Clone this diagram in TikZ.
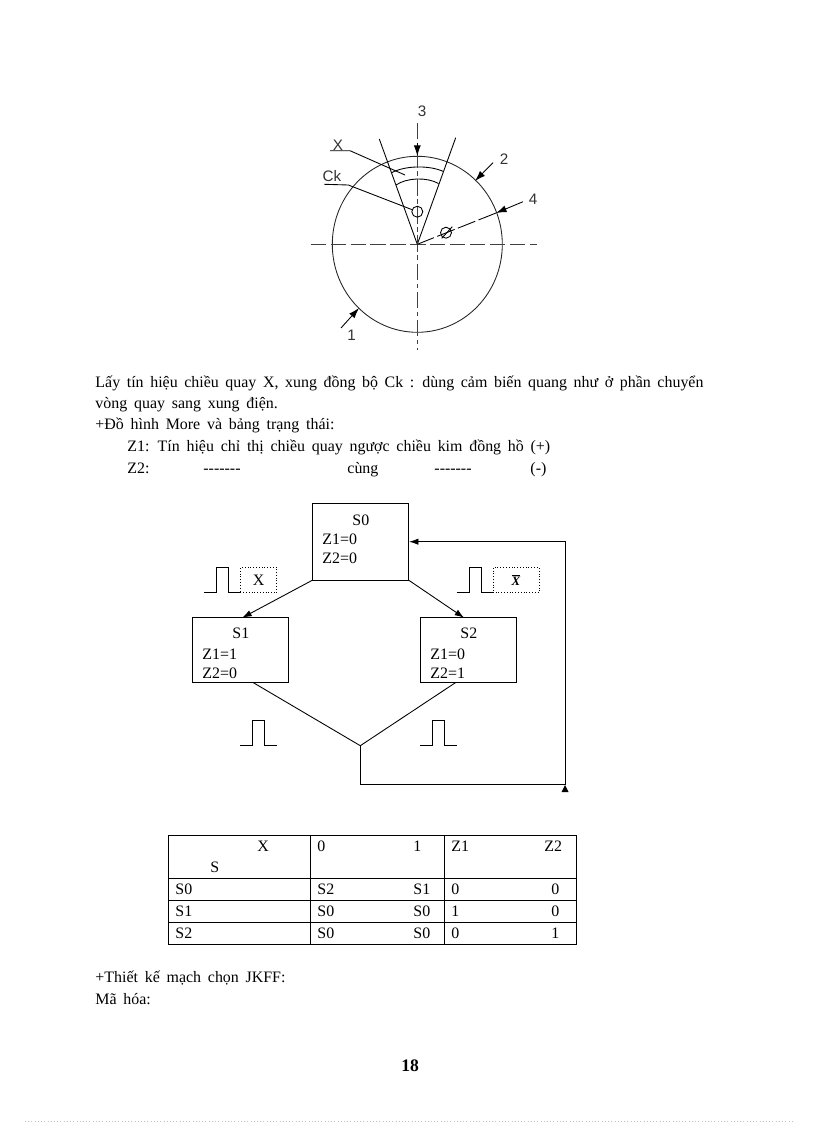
\documentclass[tikz,border=0pt]{standalone}
\usepackage{fontspec}
\setmainfont[WordSpace=1.7]{Liberation Serif}
\setsansfont{Liberation Sans}
\usetikzlibrary{arrows.meta}
\newcommand{\hyph}{-{}-{}-{}-{}-{}-{}-}
\begin{document}
\begin{tikzpicture}[x=0.03cm,y=-0.03cm,>={Latex[length=8pt,width=5.5pt]},line width=0.75pt,
    every node/.style={inner sep=0pt},
    font=\fontsize{13.6}{16}\selectfont]
  \tikzset{
    txt/.style={anchor=base west},
    cad/.style={font=\sffamily\fontsize{13}{15}\selectfont,text=black!80},
    state/.style={draw, minimum width=2.89cm, minimum height=1.94cm},
    smallarrow/.style={-{Latex[length=9pt,width=6pt]}},
    axis/.style={dash pattern=on 13pt off 4pt, line width=0.8pt, black!75}
  }
  \useasboundingbox (0,0) rectangle (816,1123);
  % rotor
  \coordinate (c) at (417.3,244.3);
  \draw[black!85] (c) ellipse [x radius=85, y radius=88];
  \coordinate (wl) at (379.3,139);
  \coordinate (wr) at (455.7,137.7);
  \draw (wl) -- (c) -- (wr);
  \draw (391.7,172.7) .. controls (405,165.5) and (429,165) .. (443.5,171.5);
  \draw (396,185) .. controls (407,177.5) and (427,177) .. (438.5,183.5);
  \draw[axis] (310.7,244.3) -- (537,244.3);
  \draw[axis, dash pattern=on 14pt off 3pt on 4pt off 3pt] (c |- 0,123) -- (c |- 0,350);
  \node[circle, draw, minimum size=0.33cm] (ck) at (417.3,211.7) {};
  \node[circle, draw, minimum size=0.33cm] (phi) at (446,232.7) {};
  \draw (441.7,238.3) -- (452.3,226.7);
  % labels and leaders
  \node[cad] (l3) at (422,111) {3};
  \node[cad] (l2) at (504,159) {2};
  \node[cad] (l4) at (533,199) {4};
  \node[cad] (l1) at (351.7,335.7) {1};
  \node[cad] (lx) at (338,145) {X};
  \node[cad] (lck) at (332,176) {Ck};
  \coordinate (x1) at (330,150.7);
  \coordinate (x2) at (350,150.7);
  \coordinate (x3) at (405,175);
  \draw (x1) -- (x2) -- (x3);
  \coordinate (k1) at (324.3,184.3);
  \coordinate (k2) at (348.3,185);
  \draw (k1) -- (k2) -- (ck);
  \coordinate (a3) at (417.3,143);
  \coordinate (t3) at (417.3,156);
  \draw[smallarrow] (a3) -- (t3);
  \coordinate (a2) at (493,162.7);
  \coordinate (t2) at (475,181);
  \draw[smallarrow] (a2) -- (t2);
  \coordinate (a4) at (523,201.7);
  \coordinate (t4) at (496,213);
  \draw[smallarrow] (a4) -- (t4);
  \draw[dash pattern=on 16pt off 3pt] (t4) -- (c);
  \coordinate (a1) at (341,328);
  \coordinate (t1) at (359,308);
  \draw[smallarrow] (a1) -- (t1);
  % text
  \node[txt] (p1) at (95,387) {\makebox[18.24cm][s]{Lấy tín hiệu chiều quay X, xung đồng bộ Ck : dùng cảm biến quang như ở phần chuyển}};
  \node[txt] (p2) at (95,408) {vòng quay sang xung điện.};
  \node[txt] (p3) at (95,429) {+Đồ hình More và bảng trạng thái:};
  \node[txt] (p4) at (127,451) {Z1: Tín hiệu chỉ thị chiều quay ngược chiều kim đồng hồ (+)};
  \node[txt] (p5) at (127,473) {Z2:};
  \node[txt] (p6) at (203,473) {\hyph};
  \node[txt] (p7) at (347,473) {cùng};
  \node[txt] (p8) at (434,473) {\hyph};
  \node[txt] (p9) at (530,473) {(-)};
  % state graph
  \node[state, minimum height=2.3cm] (s0) at (360.5,541.7) {};
  \node[state] (s1) at (240.5,650) {};
  \node[state] (s2) at (468.5,650) {};
  \node[txt] (s0t) at (352,525) {S0};
  \node[txt] (s0a) at (322,544) {Z1=0};
  \node[txt] (s0b) at (322,563) {Z2=0};
  \node[txt] (s1t) at (232,638) {S1};
  \node[txt] (s1a) at (202,659) {Z1=1};
  \node[txt] (s1b) at (202,678) {Z2=0};
  \node[txt] (s2t) at (460,638) {S2};
  \node[txt] (s2a) at (430,659) {Z1=0};
  \node[txt] (s2b) at (430,678) {Z2=1};
  \coordinate (j) at (360.3,745.7);
  \coordinate (b) at (360.3,784);
  \coordinate (r) at (565,784);
  \coordinate (u) at (565,541.7);
  \draw[->] (s0.south west) -- (242.3,617.7);
  \draw[->] (s0.south east) -- (464,617.7);
  \draw (252.7,682.3) -- (j) -- (456,682.3);
  \draw[->] (j) -- (b) -- (r) -- (u) -- (s0.east |- u);
  \fill (561.5,792) -- (565,785) -- (568.5,792) -- cycle;
  % pulses
  \foreach \px/\py/\ph in {204/592.3/25,456.7/592.3/25,240/745.7/25.7,420/745.7/25.7}
    \draw (\px,\py) -- ++(12.5,0) -- ++(0,-\ph) -- ++(12.2,0) -- ++(0,\ph) -- ++(12.3,0);
  \node[draw, dotted, thin, minimum width=1.09cm, minimum height=0.75cm] (xbox) at (258.5,579.8) {X};
  \node[draw, dotted, thin, minimum width=1.39cm, minimum height=0.75cm] (nxbox) at (515.9,579.8) {\fontsize{11}{13}\selectfont$\overline{\hbox{\bfseries\itshape X}}$};
  % table
  \draw (168.3,835) rectangle (576.7,944.3);
  \foreach \ty in {878.7,900.3,922.3} \draw (168.3,\ty) -- (576.7,\ty);
  \foreach \tx in {310.3,444.3} \draw (\tx,835) -- (\tx,944.3);
  \foreach \tx/\ty/\cell in {257/851/X,210/872/S,317/851/0,413/851/1,451/851/Z1,544/851/Z2,
      175/894/S0,317/894/S2,413/894/S1,451/894/0,551/894/0,
      175/916/S1,317/916/S0,413/916/S0,451/916/1,551/916/0,
      175/938/S2,317/938/S0,413/938/S0,451/938/0,551/938/1}
    \node[txt] at (\tx,\ty) {\cell};
  \node[txt] (p10) at (95,982) {+Thiết kế mạch chọn JKFF:};
  \node[txt] (p11) at (95,1004) {Mã hóa:};
  \node[txt,font=\bfseries\fontsize{15}{18}\selectfont] (pg) at (401,1071) {18};
  \draw[black!25, dotted] (25,1121.5) -- (792,1121.5);
\end{tikzpicture}
\end{document}
